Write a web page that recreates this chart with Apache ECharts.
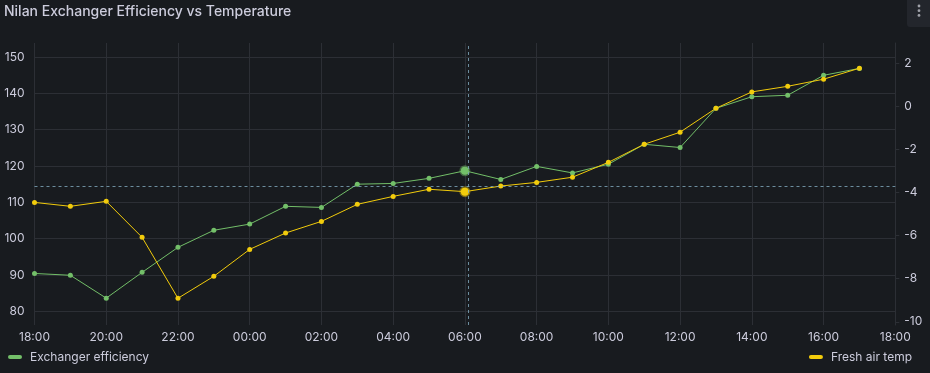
<!DOCTYPE html>
<html>
<head>
<meta charset="utf-8">
<script src="https://cdn.jsdelivr.net/npm/echarts@6/dist/echarts.min.js"></script>
<style>
html,body{margin:0;padding:0;background:#181b1f;}
#chart{width:930px;height:373px;}
</style>
</head>
<body>
<div id="chart"></div>
<script>
const times = ["18:00","19:00","20:00","21:00","22:00","23:00","00:00","01:00","02:00","03:00","04:00","05:00",
               "06:00","07:00","08:00","09:00","10:00","11:00","12:00","13:00","14:00","15:00","16:00","17:00"];
const efficiency = [90.4, 89.9, 83.6, 90.7, 97.6, 102.3, 104.0, 108.9, 108.6, 115.0, 115.2, 116.6,
                    118.7, 116.3, 119.9, 118.1, 120.5, 126.0, 125.1, 135.9, 139.1, 139.5, 145.0, 146.9];
const freshAirTemp = [-4.46, -4.64, -4.41, -6.08, -8.91, -7.89, -6.64, -5.88, -5.34, -4.55, -4.18, -3.85,
                      -3.96, -3.70, -3.53, -3.29, -2.60, -1.76, -1.20, -0.09, 0.67, 0.93, 1.26, 1.77];
const xTickLabels = ["18:00","20:00","22:00","00:00","02:00","04:00","06:00","08:00","10:00","12:00","14:00","16:00","18:00"];
const leftTicks = [80, 90, 100, 110, 120, 130, 140, 150];
const rightTicks = [-10, -8, -6, -4, -2, 0, 2];
const hoverTime = "06:05";
const hoverValue = 114.5;
const hoverIndex = 12;

const GREEN = '#73BF69', YELLOW = '#F2CC0C';
const TEXT = '#ccccdc', GRID = '#2c2f35';

function hourOffset(t) {
  const [h, m] = t.split(':').map(Number);
  return ((h - 18 + 24) % 24) + m / 60;
}
function buildData(values, color, halo) {
  return values.map((v, i) => {
    const item = { value: [hourOffset(times[i]), v] };
    if (i === hoverIndex) {
      item.symbolSize = 8;
      item.itemStyle = { color: color, borderColor: halo, borderWidth: 3 };
    }
    return item;
  });
}

const legendBase = {
  top: 351, padding: 0,
  icon: 'path://M2,0 L12,0 A2,2 0 0 1 12,4 L2,4 A2,2 0 0 1 2,0 Z',
  itemWidth: 14, itemHeight: 4, itemGap: 8,
  symbolKeepAspect: false,
  itemStyle: { borderWidth: 0 },
  textStyle: { color: TEXT, fontSize: 12, fontFamily: 'Inter', padding: [0, 0, 0, 3] },
  selectedMode: false
};

const chart = echarts.init(document.getElementById('chart'), null, { renderer: 'canvas' });
chart.setOption({
  backgroundColor: '#181b1f',
  animation: false,
  textStyle: { fontFamily: 'Inter' },
  title: {
    text: 'Nilan Exchanger Efficiency vs Temperature',
    left: 4, top: 5, padding: 0,
    textStyle: { color: TEXT, fontSize: 14, fontWeight: 500, fontFamily: 'Inter' }
  },
  graphic: [
    { type: 'rect', shape: { x: 907, y: -4, width: 30, height: 31, r: 3 }, style: { fill: '#23262c' } },
    { type: 'circle', shape: { cx: 919, cy: 6, r: 1.4 }, style: { fill: '#a0a2aa' } },
    { type: 'circle', shape: { cx: 919, cy: 10.7, r: 1.4 }, style: { fill: '#a0a2aa' } },
    { type: 'circle', shape: { cx: 919, cy: 15.4, r: 1.4 }, style: { fill: '#a0a2aa' } }
  ],
  legend: [
    Object.assign({}, legendBase, { data: ['Exchanger efficiency'], left: 8 }),
    Object.assign({}, legendBase, { data: ['Fresh air temp'], right: 18 })
  ],
  grid: { left: 34.5, right: 34.7, top: 43, bottom: 48, containLabel: false },
  xAxis: {
    type: 'value', min: 0, max: 24, interval: 2,
    axisLine: { show: false },
    axisTick: { show: false },
    splitLine: { show: true, lineStyle: { color: GRID, width: 1 } },
    axisLabel: {
      color: TEXT, fontSize: 12, margin: 6, fontFamily: 'Inter',
      formatter: v => xTickLabels[Math.round(v / 2)]
    }
  },
  yAxis: [
    {
      type: 'value', position: 'left', min: 76.2, max: 153.9,
      axisLine: { show: false },
      axisTick: { show: false, customValues: leftTicks },
      axisLabel: { color: TEXT, fontSize: 12, margin: 10, fontFamily: 'Inter', customValues: leftTicks },
      splitLine: { show: true, lineStyle: { color: GRID, width: 1 } }
    },
    {
      type: 'value', position: 'right', min: -10.15, max: 2.94,
      axisLine: { show: true, lineStyle: { color: GRID } },
      axisTick: { show: true, length: 4, lineStyle: { color: GRID }, customValues: rightTicks },
      axisLabel: { color: TEXT, fontSize: 12, margin: 9, fontFamily: 'Inter', customValues: rightTicks },
      splitLine: { show: false }
    }
  ],
  series: [
    {
      name: 'Exchanger efficiency', type: 'line', yAxisIndex: 0,
      data: buildData(efficiency, GREEN, 'rgba(115,191,105,0.45)'),
      symbol: 'circle', symbolSize: 5, showSymbol: true, symbolKeepAspect: false,
      lineStyle: { color: GREEN, width: 1 },
      itemStyle: { color: GREEN },
      z: 2,
      markLine: {
        silent: true, symbol: 'none', label: { show: false },
        lineStyle: { color: 'rgba(130,170,190,0.8)', type: [3, 3], width: 1 },
        data: [ { xAxis: hourOffset(hoverTime) }, { yAxis: hoverValue } ]
      }
    },
    {
      name: 'Fresh air temp', type: 'line', yAxisIndex: 1,
      data: buildData(freshAirTemp, YELLOW, 'rgba(242,204,12,0.45)'),
      symbol: 'circle', symbolSize: 5, showSymbol: true, symbolKeepAspect: false,
      lineStyle: { color: YELLOW, width: 1 },
      itemStyle: { color: YELLOW },
      z: 3
    }
  ]
});
</script>
</body>
</html>
